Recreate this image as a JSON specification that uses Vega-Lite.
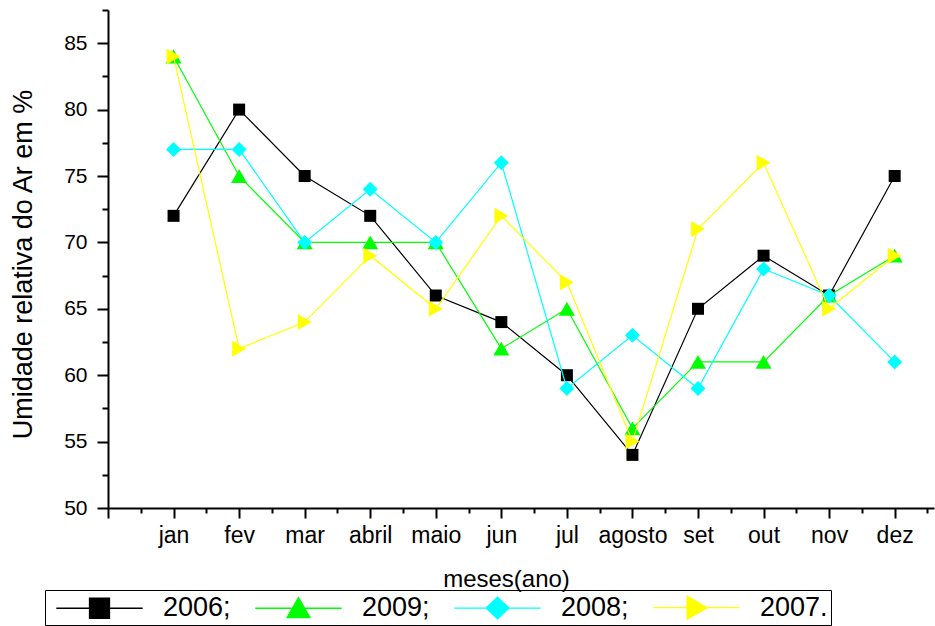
{
  "$schema": "https://vega.github.io/schema/vega-lite/v6.json",
  "autosize": {"type": "none"},
  "padding": {"left": 108, "top": 10, "right": 1, "bottom": 118},
  "width": 826,
  "height": 498,
  "background": "white",
  "config": {
    "font": "Liberation Sans",
    "view": {"stroke": null},
    "axis": {"grid": false, "domainColor": "#000000", "tickColor": "#000000", "labelColor": "#000000", "titleColor": "#000000", "domainWidth": 2, "tickWidth": 2, "titleFontWeight": "normal", "labelFont": "Liberation Sans", "titleFont": "Liberation Sans"}
  },
  "data": {"values": [
    {"mes": 1, "serie": "2006;", "v": 72}, {"mes": 2, "serie": "2006;", "v": 80}, {"mes": 3, "serie": "2006;", "v": 75}, {"mes": 4, "serie": "2006;", "v": 72}, {"mes": 5, "serie": "2006;", "v": 66}, {"mes": 6, "serie": "2006;", "v": 64}, {"mes": 7, "serie": "2006;", "v": 60}, {"mes": 8, "serie": "2006;", "v": 54}, {"mes": 9, "serie": "2006;", "v": 65}, {"mes": 10, "serie": "2006;", "v": 69}, {"mes": 11, "serie": "2006;", "v": 66}, {"mes": 12, "serie": "2006;", "v": 75},
    {"mes": 1, "serie": "2009;", "v": 84}, {"mes": 2, "serie": "2009;", "v": 75}, {"mes": 3, "serie": "2009;", "v": 70}, {"mes": 4, "serie": "2009;", "v": 70}, {"mes": 5, "serie": "2009;", "v": 70}, {"mes": 6, "serie": "2009;", "v": 62}, {"mes": 7, "serie": "2009;", "v": 65}, {"mes": 8, "serie": "2009;", "v": 56}, {"mes": 9, "serie": "2009;", "v": 61}, {"mes": 10, "serie": "2009;", "v": 61}, {"mes": 11, "serie": "2009;", "v": 66}, {"mes": 12, "serie": "2009;", "v": 69},
    {"mes": 1, "serie": "2008;", "v": 77}, {"mes": 2, "serie": "2008;", "v": 77}, {"mes": 3, "serie": "2008;", "v": 70}, {"mes": 4, "serie": "2008;", "v": 74}, {"mes": 5, "serie": "2008;", "v": 70}, {"mes": 6, "serie": "2008;", "v": 76}, {"mes": 7, "serie": "2008;", "v": 59}, {"mes": 8, "serie": "2008;", "v": 63}, {"mes": 9, "serie": "2008;", "v": 59}, {"mes": 10, "serie": "2008;", "v": 68}, {"mes": 11, "serie": "2008;", "v": 66}, {"mes": 12, "serie": "2008;", "v": 61},
    {"mes": 1, "serie": "2007.", "v": 84}, {"mes": 2, "serie": "2007.", "v": 62}, {"mes": 3, "serie": "2007.", "v": 64}, {"mes": 4, "serie": "2007.", "v": 69}, {"mes": 5, "serie": "2007.", "v": 65}, {"mes": 6, "serie": "2007.", "v": 72}, {"mes": 7, "serie": "2007.", "v": 67}, {"mes": 8, "serie": "2007.", "v": 55}, {"mes": 9, "serie": "2007.", "v": 71}, {"mes": 10, "serie": "2007.", "v": 76}, {"mes": 11, "serie": "2007.", "v": 65}, {"mes": 12, "serie": "2007.", "v": 69}
  ]},
  "encoding": {
    "x": {"field": "mes", "type": "quantitative",
      "scale": {"domain": [0, 12.6], "nice": false, "zero": false},
      "axis": {"orient": "bottom", "values": [0,0.5,1,1.5,2,2.5,3,3.5,4,4.5,5,5.5,6,6.5,7,7.5,8,8.5,9,9.5,10,10.5,11,11.5,12,12.5],
        "labelExpr": "datum.value % 1 === 0 ? ['','jan','fev','mar','abril','maio','jun','jul','agosto','set','out','nov','dez'][datum.value] : ''",
        "tickSize": {"condition": {"test": "datum.value % 1 === 0", "value": 10}, "value": 5},
        "labelFontSize": 23, "labelBaseline": "alphabetic", "labelPadding": 24, "labelFlush": false, "labelOverlap": false,
        "title": "meses(ano)", "titleFontSize": 24, "titleX": 398, "titleY": 78, "titleBaseline": "alphabetic", "titleAlign": "center", "titleAnchor": null}},
    "y": {"field": "v", "type": "quantitative",
      "scale": {"domain": [50, 87.5], "nice": false, "zero": false},
      "axis": {"orient": "left", "values": [50,52.5,55,57.5,60,62.5,65,67.5,70,72.5,75,77.5,80,82.5,85,87.5],
        "labelExpr": "datum.value % 5 === 0 ? datum.label : ''",
        "tickSize": {"condition": {"test": "datum.value % 5 === 0", "value": 11}, "value": 6},
        "labelFontSize": 21, "labelPadding": 10, "labelOverlap": false, "labelFlush": false,
        "title": "Umidade relativa do Ar em %", "titleFontSize": 27, "titleAngle": 270, "titleX": -77, "titleY": 254, "titleBaseline": "alphabetic", "titleAlign": "center", "titleAnchor": null}}
  },
  "layer": [
    {
      "transform": [{"filter": "datum.serie === '2006;'"}],
      "mark": {"type": "line", "color": "#000000", "strokeWidth": 1.2,
        "point": {"shape": "square", "filled": true, "size": 144, "color": "#000000", "opacity": 1}}
    },
    {
      "transform": [{"filter": "datum.serie === '2009;'"}],
      "mark": {"type": "line", "color": "#00ff00", "strokeWidth": 1.2,
        "point": {"shape": "triangle-up", "filled": true, "size": 256, "color": "#00ff00", "opacity": 1}}
    },
    {
      "transform": [{"filter": "datum.serie === '2008;'"}],
      "mark": {"type": "line", "color": "#00ffff", "strokeWidth": 1.2,
        "point": {"shape": "diamond", "filled": true, "size": 225, "color": "#00ffff", "opacity": 1}}
    },
    {
      "transform": [{"filter": "datum.serie === '2007.'"}],
      "mark": {"type": "line", "color": "#ffff00", "strokeWidth": 1.2,
        "point": {"shape": "triangle-right", "filled": true, "size": 256, "color": "#ffff00", "opacity": 1}}
    },
    {
      "transform": [{"filter": "datum.mes > 100"}],
      "mark": {"type": "point", "filled": true},
      "encoding": {
        "fill": {"field": "serie", "type": "nominal",
          "scale": {"domain": ["2006;", "2009;", "2008;", "2007."], "range": ["#000000", "#00ff00", "#00ffff", "#ffff00"]},
          "legend": {"orient": "none", "legendX": -63, "legendY": 580, "direction": "horizontal", "title": null,
            "symbolSize": 729, "symbolStrokeWidth": 1.3, "symbolOpacity": 1, "symbolOffset": 37, "labelFontSize": 27, "labelColor": "#000000",
            "labelOffset": 49, "columnPadding": 16, "padding": 3, "strokeColor": "#000000"}},
        "stroke": {"field": "serie", "type": "nominal",
          "scale": {"domain": ["2006;", "2009;", "2008;", "2007."], "range": ["#000000", "#00ff00", "#00ffff", "#ffff00"]},
          "legend": {"orient": "none", "legendX": -63, "legendY": 580, "direction": "horizontal", "title": null,
            "symbolSize": 729, "symbolStrokeWidth": 1.3, "symbolOpacity": 1, "symbolOffset": 37, "labelFontSize": 27, "labelColor": "#000000",
            "labelOffset": 49, "columnPadding": 16, "padding": 3, "strokeColor": "#000000"}},
        "shape": {"field": "serie", "type": "nominal",
          "scale": {"domain": ["2006;", "2009;", "2008;", "2007."], "range": [
            "M-3.2,0H3.2M-0.74,-0.74H0.74V0.74H-0.74Z",
            "M-3.2,0H3.2M0,-0.8L0.85,0.7H-0.85Z",
            "M-3.2,0H3.2M0,-0.8L0.85,0L0,0.8L-0.85,0Z",
            "M-3.2,0H3.2M0.8,0L-0.7,-0.85V0.85Z"]},
          "legend": {"orient": "none", "legendX": -63, "legendY": 580, "direction": "horizontal", "title": null,
            "symbolSize": 729, "symbolStrokeWidth": 1.3, "symbolOpacity": 1, "symbolOffset": 37, "labelFontSize": 27, "labelColor": "#000000",
            "labelOffset": 49, "columnPadding": 16, "padding": 3, "strokeColor": "#000000"}}
      }
    }
  ]
}
